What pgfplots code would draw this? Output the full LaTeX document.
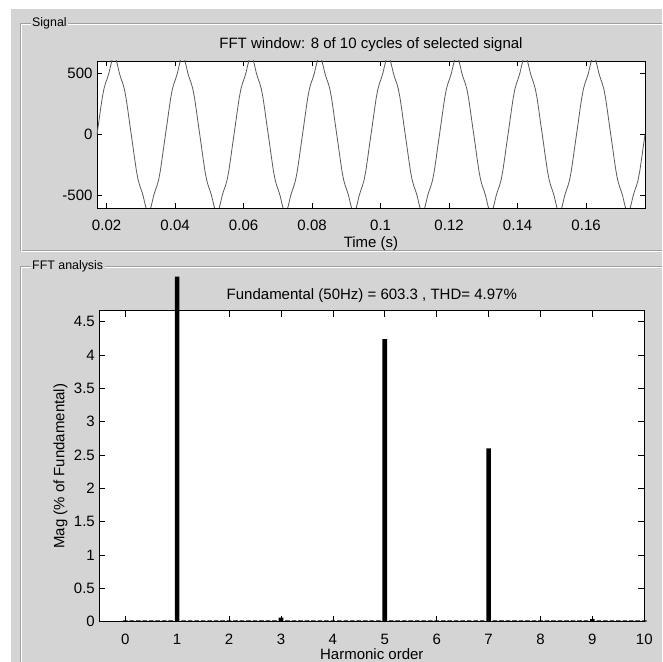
\documentclass[border=0pt]{standalone}
\usepackage{fontspec}
\setmainfont{Liberation Sans}
\usepackage{pgfplots}
\pgfplotsset{compat=1.18}

\definecolor{panel}{RGB}{212,212,212}
\definecolor{etch}{RGB}{160,160,160}
\definecolor{trace}{RGB}{90,90,90}

\newcommand{\uifont}{\fontsize{15}{17}\selectfont}
\newcommand{\boxfont}{\fontsize{12.4}{14}\selectfont}

% matlab-ish look shared by both axes
\pgfplotsset{
  matlab/.style={
    scale only axis,
    axis background/.style={fill=white},
    tick align=inside,
    major tick length=5pt,
    tick style={black, line width=0.7pt},
    axis line style={black, line width=0.9pt},
    /pgf/number format/assume math mode=true,
    ticklabel style={font=\uifont},
    every axis title shift=0pt,
    title style={font=\uifont, at={(0.5,1)}, anchor=base},
    label style={font=\uifont},
    xticklabel style={anchor=base, yshift=-23pt},
    yticklabel style={xshift=-1pt},
    xlabel style={at={(axis description cs:0.5,0)}, anchor=base, yshift=-40pt},
  }
}

\begin{document}
\begin{tikzpicture}
\path[use as bounding box] (0,0) rectangle (662pt,662pt);
\clip (0,0) rectangle (662pt,662pt);
\fill[white] (0,0) rectangle (662pt,662pt);
\fill[panel] (11pt,0) rectangle (662pt,653pt);

% group boxes
\draw[etch, line width=1pt] (700pt,638pt) -| (20pt,411pt) -- (700pt,411pt);
\draw[white, line width=1pt] (700pt,637pt) -| (21pt,410pt) -- (700pt,410pt);
\draw[etch, line width=1pt] (700pt,395pt) -| (20pt,-10pt);
\draw[white, line width=1pt] (700pt,394pt) -| (21pt,-10pt);
\node[anchor=base west, fill=panel, inner sep=1.5pt, font=\boxfont] at (30.5pt,635.3pt) {Signal};
\node[anchor=base west, fill=panel, inner sep=1.5pt, font=\boxfont] at (30.5pt,392pt) {FFT analysis};

% signal
\begin{axis}[matlab,
  at={(97pt,454pt)}, anchor=south west,
  width=548pt, height=147pt,
  xmin=0.0172, xmax=0.1772, ymin=-600, ymax=600,
  xtick={0.02,0.04,0.06,0.08,0.1,0.12,0.14,0.16},
  xticklabels={0.02,0.04,0.06,0.08,0.1,0.12,0.14,0.16},
  ytick={-500,0,500}, yticklabels={-500,0,500},
  title={FFT window: 8 of 10 cycles of selected signal},
  title style={yshift=12pt},
  xlabel={Time (s)},
]
\addplot[trace, line width=0.8pt] coordinates {
(0.0172,0) (0.0177,98.4) (0.0182,199.2) (0.0187,294.4) (0.0192,369.5) (0.0197,419.7) (0.0202,457.7) (0.0207,504.0) (0.0212,564.5) (0.0217,621.0)
(0.0222,644.5) (0.0227,621.0) (0.0232,564.5) (0.0237,504.0) (0.0242,457.7) (0.0247,419.7) (0.0252,369.5) (0.0257,294.4) (0.0262,199.2) (0.0267,98.4)
(0.0272,0) (0.0277,-98.4) (0.0282,-199.2) (0.0287,-294.4) (0.0292,-369.5) (0.0297,-419.7) (0.0302,-457.7) (0.0307,-504.0) (0.0312,-564.5) (0.0317,-621.0)
(0.0322,-644.5) (0.0327,-621.0) (0.0332,-564.5) (0.0337,-504.0) (0.0342,-457.7) (0.0347,-419.7) (0.0352,-369.5) (0.0357,-294.4) (0.0362,-199.2) (0.0367,-98.4)
(0.0372,0) (0.0377,98.4) (0.0382,199.2) (0.0387,294.4) (0.0392,369.5) (0.0397,419.7) (0.0402,457.7) (0.0407,504.0) (0.0412,564.5) (0.0417,621.0)
(0.0422,644.5) (0.0427,621.0) (0.0432,564.5) (0.0437,504.0) (0.0442,457.7) (0.0447,419.7) (0.0452,369.5) (0.0457,294.4) (0.0462,199.2) (0.0467,98.4)
(0.0472,0) (0.0477,-98.4) (0.0482,-199.2) (0.0487,-294.4) (0.0492,-369.5) (0.0497,-419.7) (0.0502,-457.7) (0.0507,-504.0) (0.0512,-564.5) (0.0517,-621.0)
(0.0522,-644.5) (0.0527,-621.0) (0.0532,-564.5) (0.0537,-504.0) (0.0542,-457.7) (0.0547,-419.7) (0.0552,-369.5) (0.0557,-294.4) (0.0562,-199.2) (0.0567,-98.4)
(0.0572,0) (0.0577,98.4) (0.0582,199.2) (0.0587,294.4) (0.0592,369.5) (0.0597,419.7) (0.0602,457.7) (0.0607,504.0) (0.0612,564.5) (0.0617,621.0)
(0.0622,644.5) (0.0627,621.0) (0.0632,564.5) (0.0637,504.0) (0.0642,457.7) (0.0647,419.7) (0.0652,369.5) (0.0657,294.4) (0.0662,199.2) (0.0667,98.4)
(0.0672,0) (0.0677,-98.4) (0.0682,-199.2) (0.0687,-294.4) (0.0692,-369.5) (0.0697,-419.7) (0.0702,-457.7) (0.0707,-504.0) (0.0712,-564.5) (0.0717,-621.0)
(0.0722,-644.5) (0.0727,-621.0) (0.0732,-564.5) (0.0737,-504.0) (0.0742,-457.7) (0.0747,-419.7) (0.0752,-369.5) (0.0757,-294.4) (0.0762,-199.2) (0.0767,-98.4)
(0.0772,0) (0.0777,98.4) (0.0782,199.2) (0.0787,294.4) (0.0792,369.5) (0.0797,419.7) (0.0802,457.7) (0.0807,504.0) (0.0812,564.5) (0.0817,621.0)
(0.0822,644.5) (0.0827,621.0) (0.0832,564.5) (0.0837,504.0) (0.0842,457.7) (0.0847,419.7) (0.0852,369.5) (0.0857,294.4) (0.0862,199.2) (0.0867,98.4)
(0.0872,0) (0.0877,-98.4) (0.0882,-199.2) (0.0887,-294.4) (0.0892,-369.5) (0.0897,-419.7) (0.0902,-457.7) (0.0907,-504.0) (0.0912,-564.5) (0.0917,-621.0)
(0.0922,-644.5) (0.0927,-621.0) (0.0932,-564.5) (0.0937,-504.0) (0.0942,-457.7) (0.0947,-419.7) (0.0952,-369.5) (0.0957,-294.4) (0.0962,-199.2) (0.0967,-98.4)
(0.0972,0) (0.0977,98.4) (0.0982,199.2) (0.0987,294.4) (0.0992,369.5) (0.0997,419.7) (0.1002,457.7) (0.1007,504.0) (0.1012,564.5) (0.1017,621.0)
(0.1022,644.5) (0.1027,621.0) (0.1032,564.5) (0.1037,504.0) (0.1042,457.7) (0.1047,419.7) (0.1052,369.5) (0.1057,294.4) (0.1062,199.2) (0.1067,98.4)
(0.1072,0) (0.1077,-98.4) (0.1082,-199.2) (0.1087,-294.4) (0.1092,-369.5) (0.1097,-419.7) (0.1102,-457.7) (0.1107,-504.0) (0.1112,-564.5) (0.1117,-621.0)
(0.1122,-644.5) (0.1127,-621.0) (0.1132,-564.5) (0.1137,-504.0) (0.1142,-457.7) (0.1147,-419.7) (0.1152,-369.5) (0.1157,-294.4) (0.1162,-199.2) (0.1167,-98.4)
(0.1172,0) (0.1177,98.4) (0.1182,199.2) (0.1187,294.4) (0.1192,369.5) (0.1197,419.7) (0.1202,457.7) (0.1207,504.0) (0.1212,564.5) (0.1217,621.0)
(0.1222,644.5) (0.1227,621.0) (0.1232,564.5) (0.1237,504.0) (0.1242,457.7) (0.1247,419.7) (0.1252,369.5) (0.1257,294.4) (0.1262,199.2) (0.1267,98.4)
(0.1272,0) (0.1277,-98.4) (0.1282,-199.2) (0.1287,-294.4) (0.1292,-369.5) (0.1297,-419.7) (0.1302,-457.7) (0.1307,-504.0) (0.1312,-564.5) (0.1317,-621.0)
(0.1322,-644.5) (0.1327,-621.0) (0.1332,-564.5) (0.1337,-504.0) (0.1342,-457.7) (0.1347,-419.7) (0.1352,-369.5) (0.1357,-294.4) (0.1362,-199.2) (0.1367,-98.4)
(0.1372,0) (0.1377,98.4) (0.1382,199.2) (0.1387,294.4) (0.1392,369.5) (0.1397,419.7) (0.1402,457.7) (0.1407,504.0) (0.1412,564.5) (0.1417,621.0)
(0.1422,644.5) (0.1427,621.0) (0.1432,564.5) (0.1437,504.0) (0.1442,457.7) (0.1447,419.7) (0.1452,369.5) (0.1457,294.4) (0.1462,199.2) (0.1467,98.4)
(0.1472,0) (0.1477,-98.4) (0.1482,-199.2) (0.1487,-294.4) (0.1492,-369.5) (0.1497,-419.7) (0.1502,-457.7) (0.1507,-504.0) (0.1512,-564.5) (0.1517,-621.0)
(0.1522,-644.5) (0.1527,-621.0) (0.1532,-564.5) (0.1537,-504.0) (0.1542,-457.7) (0.1547,-419.7) (0.1552,-369.5) (0.1557,-294.4) (0.1562,-199.2) (0.1567,-98.4)
(0.1572,0) (0.1577,98.4) (0.1582,199.2) (0.1587,294.4) (0.1592,369.5) (0.1597,419.7) (0.1602,457.7) (0.1607,504.0) (0.1612,564.5) (0.1617,621.0)
(0.1622,644.5) (0.1627,621.0) (0.1632,564.5) (0.1637,504.0) (0.1642,457.7) (0.1647,419.7) (0.1652,369.5) (0.1657,294.4) (0.1662,199.2) (0.1667,98.4)
(0.1672,0) (0.1677,-98.4) (0.1682,-199.2) (0.1687,-294.4) (0.1692,-369.5) (0.1697,-419.7) (0.1702,-457.7) (0.1707,-504.0) (0.1712,-564.5) (0.1717,-621.0)
(0.1722,-644.5) (0.1727,-621.0) (0.1732,-564.5) (0.1737,-504.0) (0.1742,-457.7) (0.1747,-419.7) (0.1752,-369.5) (0.1757,-294.4) (0.1762,-199.2) (0.1767,-98.4)
(0.1772,0)
};
\end{axis}

% spectrum, bins every 1/8 harmonic (6.25 Hz)
\begin{axis}[matlab,
  at={(99.3pt,40.3pt)}, anchor=south west,
  width=545pt, height=311pt,
  xmin=-0.5, xmax=10, ymin=0, ymax=4.665,
  xtick={0,1,2,3,4,5,6,7,8,9,10},
  ytick={0,0.5,1,1.5,2,2.5,3,3.5,4,4.5},
  yticklabels={0,0.5,1,1.5,2,2.5,3,3.5,4,4.5},
  major tick length=6pt,
  clip=false,
  title={Fundamental (50Hz) = 603.3 , THD= 4.97\%},
  title style={yshift=11pt},
  xlabel={Harmonic order},
  xlabel style={yshift=2.5pt},
  ylabel={Mag (\% of Fundamental)},
  ylabel style={at={(axis description cs:-0.064,0.5)}, anchor=base},
]
\addplot[ybar, bar width=0.09, fill=black, draw=none, restrict y to domain*=0:5.175] coordinates {
(0,0.02) (0.125,0.02) (0.25,0.02) (0.375,0.02) (0.5,0.02) (0.625,0.02) (0.75,0.02) (0.875,0.02)
(1,100) (1.125,0.02) (1.25,0.02) (1.375,0.02) (1.5,0.02) (1.625,0.02) (1.75,0.02) (1.875,0.02)
(2,0.02) (2.125,0.02) (2.25,0.02) (2.375,0.02) (2.5,0.02) (2.625,0.02) (2.75,0.02) (2.875,0.02)
(3,0.06) (3.125,0.02) (3.25,0.02) (3.375,0.02) (3.5,0.02) (3.625,0.02) (3.75,0.02) (3.875,0.02)
(4,0.02) (4.125,0.02) (4.25,0.02) (4.375,0.02) (4.5,0.02) (4.625,0.02) (4.75,0.02) (4.875,0.02)
(5,4.24) (5.125,0.02) (5.25,0.02) (5.375,0.02) (5.5,0.02) (5.625,0.02) (5.75,0.02) (5.875,0.02)
(6,0.02) (6.125,0.02) (6.25,0.02) (6.375,0.02) (6.5,0.02) (6.625,0.02) (6.75,0.02) (6.875,0.02)
(7,2.60) (7.125,0.02) (7.25,0.02) (7.375,0.02) (7.5,0.02) (7.625,0.02) (7.75,0.02) (7.875,0.02)
(8,0.02) (8.125,0.02) (8.25,0.02) (8.375,0.02) (8.5,0.02) (8.625,0.02) (8.75,0.02) (8.875,0.02)
(9,0.04) (9.125,0.02) (9.25,0.02) (9.375,0.02) (9.5,0.02) (9.625,0.02) (9.75,0.02) (9.875,0.02)
(10,0.02)
};
\end{axis}
\end{tikzpicture}
\end{document}
